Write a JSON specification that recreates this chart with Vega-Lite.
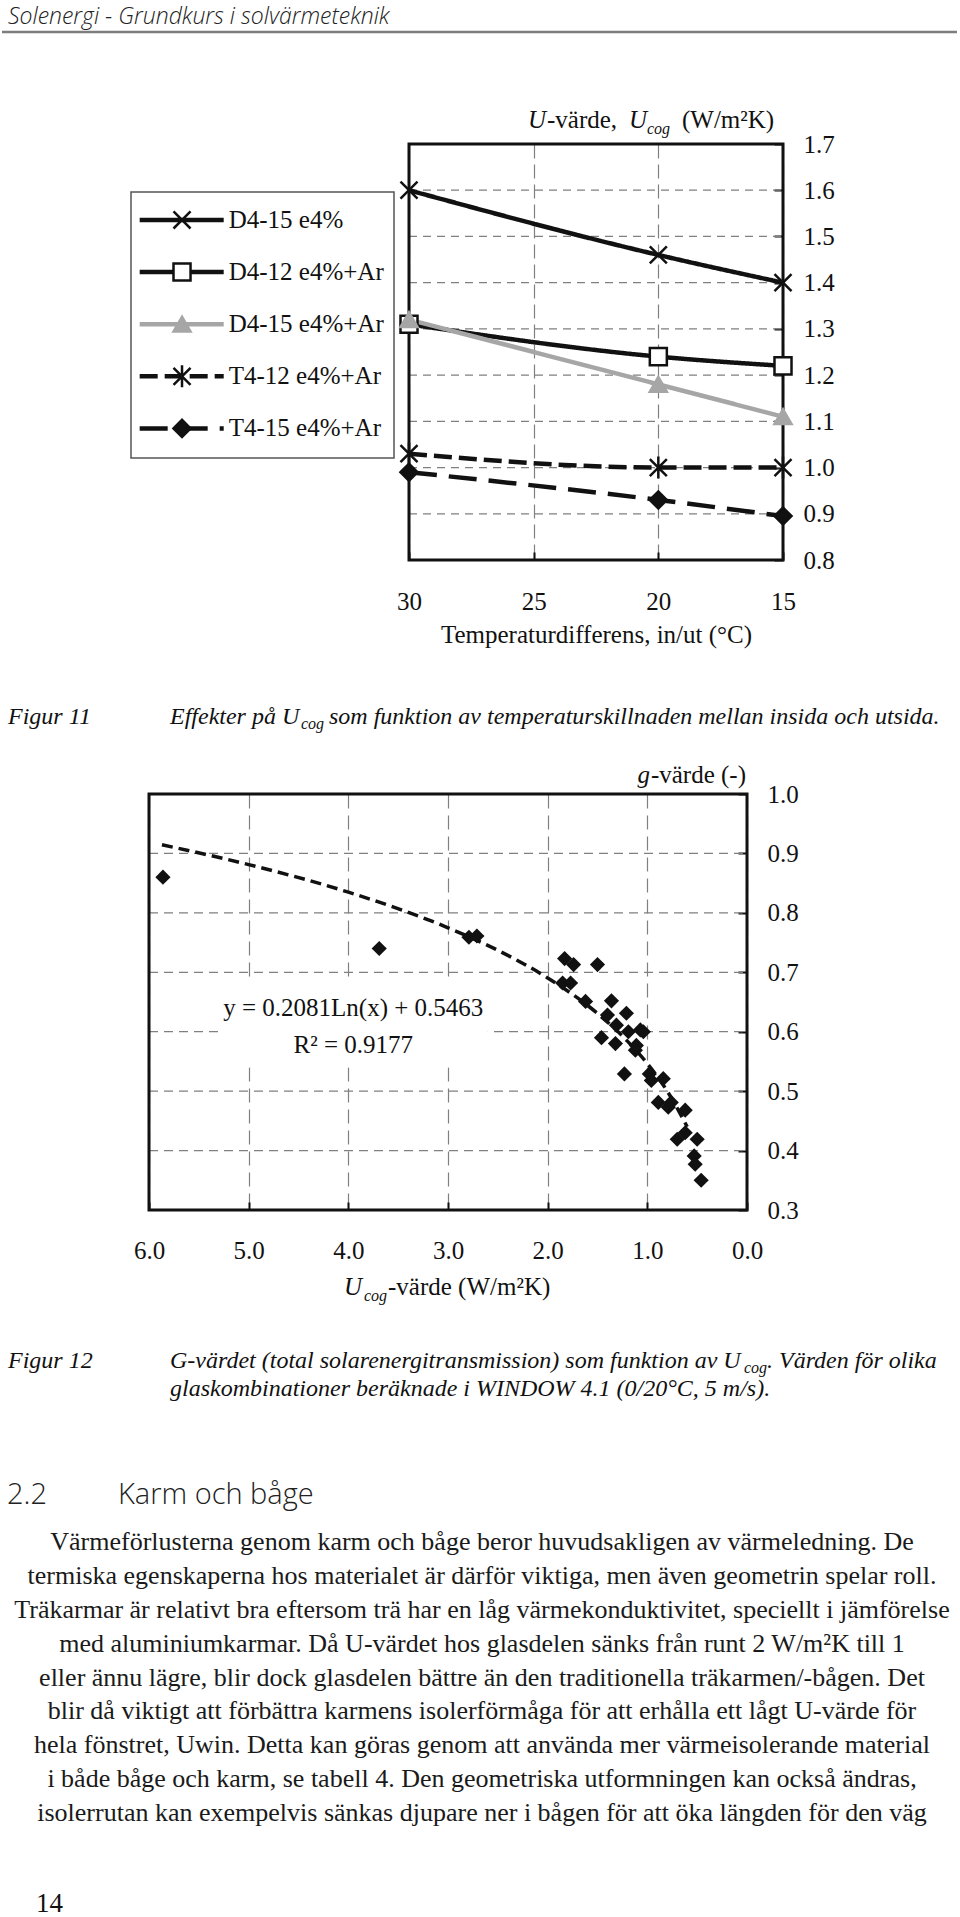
{
  "$schema": "https://vega.github.io/schema/vega-lite/v6.json",
  "padding": 0,
  "autosize": {"type": "pad"},
  "background": "white",
  "bounds": "flush",
  "spacing": 0,
  "config": {
    "view": {"stroke": null},
    "legend": {"disable": true},
    "axis": {"labelFont": "Liberation Serif", "labelFontSize": 25, "labelColor": "#111", "gridColor": "#808080", "gridWidth": 1.2, "domain": false, "tickColor": "#111", "tickWidth": 2, "titleFont": "Liberation Serif", "titleFontSize": 25, "titleFontWeight": "normal", "titleColor": "#111", "labelFlush": false, "labelOverlap": false},
    "text": {"font": "Liberation Serif", "fontSize": 25, "color": "#111"}
  },
  "datasets": {
    "ucog": [
      {"s": "D4-15 e4%", "t": 30, "u": 1.60}, {"s": "D4-15 e4%", "t": 20, "u": 1.46}, {"s": "D4-15 e4%", "t": 15, "u": 1.40},
      {"s": "D4-12 e4%+Ar", "t": 30, "u": 1.31}, {"s": "D4-12 e4%+Ar", "t": 20, "u": 1.24}, {"s": "D4-12 e4%+Ar", "t": 15, "u": 1.22},
      {"s": "D4-15 e4%+Ar", "t": 30, "u": 1.32}, {"s": "D4-15 e4%+Ar", "t": 20, "u": 1.18}, {"s": "D4-15 e4%+Ar", "t": 15, "u": 1.11},
      {"s": "T4-12 e4%+Ar", "t": 30, "u": 1.03}, {"s": "T4-12 e4%+Ar", "t": 20, "u": 1.00}, {"s": "T4-12 e4%+Ar", "t": 15, "u": 1.00},
      {"s": "T4-15 e4%+Ar", "t": 30, "u": 0.99}, {"s": "T4-15 e4%+Ar", "t": 20, "u": 0.93}, {"s": "T4-15 e4%+Ar", "t": 15, "u": 0.895}
    ],
    "series": [
      {"s": "D4-15 e4%", "k": 1}, {"s": "D4-12 e4%+Ar", "k": 2}, {"s": "D4-15 e4%+Ar", "k": 3}, {"s": "T4-12 e4%+Ar", "k": 4}, {"s": "T4-15 e4%+Ar", "k": 5}
    ],
    "grid1": [{"u": 0.9}, {"u": 1.0}, {"u": 1.1}, {"u": 1.2}, {"u": 1.3}, {"u": 1.4}, {"u": 1.5}, {"u": 1.6}],
    "grid2": [{"g": 0.4}, {"g": 0.5}, {"g": 0.6}, {"g": 0.7}, {"g": 0.8}, {"g": 0.9}],
    "gval": [
      {"uc": 5.86, "g": 0.860}, {"uc": 3.69, "g": 0.740}, {"uc": 2.79, "g": 0.759}, {"uc": 2.71, "g": 0.761},
      {"uc": 1.83, "g": 0.723}, {"uc": 1.74, "g": 0.713}, {"uc": 1.50, "g": 0.713}, {"uc": 1.85, "g": 0.682},
      {"uc": 1.77, "g": 0.682}, {"uc": 1.62, "g": 0.651}, {"uc": 1.36, "g": 0.652}, {"uc": 1.40, "g": 0.628},
      {"uc": 1.21, "g": 0.631}, {"uc": 1.31, "g": 0.611}, {"uc": 1.19, "g": 0.600}, {"uc": 1.07, "g": 0.603},
      {"uc": 1.04, "g": 0.600}, {"uc": 1.46, "g": 0.590}, {"uc": 1.32, "g": 0.580}, {"uc": 1.11, "g": 0.577},
      {"uc": 1.12, "g": 0.569}, {"uc": 1.23, "g": 0.529}, {"uc": 0.98, "g": 0.529}, {"uc": 0.96, "g": 0.518},
      {"uc": 0.84, "g": 0.521}, {"uc": 0.89, "g": 0.481}, {"uc": 0.79, "g": 0.473}, {"uc": 0.76, "g": 0.481},
      {"uc": 0.62, "g": 0.468}, {"uc": 0.70, "g": 0.419}, {"uc": 0.62, "g": 0.430}, {"uc": 0.50, "g": 0.419},
      {"uc": 0.53, "g": 0.391}, {"uc": 0.52, "g": 0.377}, {"uc": 0.46, "g": 0.350}
    ],
    "trend": [
      {"uc": 5.87, "g": 0.9146}, {"uc": 5.0, "g": 0.8812}, {"uc": 4.0, "g": 0.8348}, {"uc": 3.0, "g": 0.7749},
      {"uc": 2.5, "g": 0.7370}, {"uc": 2.0, "g": 0.6905}, {"uc": 1.5, "g": 0.6307}, {"uc": 1.2, "g": 0.5842},
      {"uc": 1.0, "g": 0.5463}, {"uc": 0.8, "g": 0.4999}, {"uc": 0.6, "g": 0.4400}
    ],
    "para": [
      {"line": 1, "txt": "Värmeförlusterna genom karm och båge beror huvudsakligen av värmeledning. De"},
      {"line": 2, "txt": "termiska egenskaperna hos materialet är därför viktiga, men även geometrin spelar roll."},
      {"line": 3, "txt": "Träkarmar är relativt bra eftersom trä har en låg värmekonduktivitet, speciellt i jämförelse"},
      {"line": 4, "txt": "med aluminiumkarmar. Då U-värdet hos glasdelen sänks från runt 2 W/m²K till 1"},
      {"line": 5, "txt": "eller ännu lägre, blir dock glasdelen bättre än den traditionella träkarmen/-bågen. Det"},
      {"line": 6, "txt": "blir då viktigt att förbättra karmens isolerförmåga för att erhålla ett lågt U-värde för"},
      {"line": 7, "txt": "hela fönstret, Uwin. Detta kan göras genom att använda mer värmeisolerande material"},
      {"line": 8, "txt": "i både båge och karm, se tabell 4. Den geometriska utformningen kan också ändras,"},
      {"line": 9, "txt": "isolerrutan kan exempelvis sänkas djupare ner i bågen för att öka längden för den väg"}
    ]
  },
  "vconcat": [
    {
      "width": 955, "height": 32,
      "data": {"values": [{"txt": "Solenergi - Grundkurs i solvärmeteknik"}]},
      "mark": {"type": "text", "align": "left", "baseline": "alphabetic", "font": "Open Sans", "fontStyle": "italic", "fontWeight": 300, "fontSize": 23, "color": "#222", "dx": 6, "dy": 8},
      "encoding": {"x": {"datum": 0, "type": "quantitative", "scale": {"domain": [0, 1]}, "axis": null}, "text": {"field": "txt"}}
    },
    {
      "width": 955, "height": 112,
      "data": {"values": [{"line": "header rule"}]},
      "mark": {"type": "rule", "color": "#7d7d7d", "strokeWidth": 2.5},
      "encoding": {"y": {"datum": 1, "type": "quantitative", "scale": {"domain": [0, 1]}, "axis": null}}
    },
    {
      "width": 781, "height": 416,
      "layer": [
        {
          "layer": [
            {"data": {"name": "grid1"},
             "mark": {"type": "rule", "color": "#808080", "strokeWidth": 1.2, "strokeDash": [8, 6]},
             "encoding": {"x": {"datum": 30, "type": "quantitative"}, "x2": {"datum": 15}, "y": {"field": "u", "type": "quantitative"}}},
            {"data": {"values": [{"box": "frame"}]},
             "mark": {"type": "rect", "fill": "transparent", "stroke": "#111", "strokeWidth": 3},
             "encoding": {"x": {"datum": 30, "type": "quantitative"}, "x2": {"datum": 15}, "y": {"datum": 0.8, "type": "quantitative"}, "y2": {"datum": 1.7}}},
            {"data": {"name": "ucog"},
             "mark": {"type": "line", "interpolate": "monotone"},
             "encoding": {
               "x": {"field": "t", "type": "quantitative", "scale": {"domain": [30, 15], "range": [407, 781], "nice": false, "zero": false},
                     "axis": {"orient": "bottom", "values": [30, 25, 20, 15], "format": "d", "title": "Temperaturdifferens, in/ut (°C)", "titleY": 74, "titleBaseline": "middle", "grid": true, "gridDash": [14, 6], "tickSize": -8, "labelPadding": 49, "labelBaseline": "middle"}},
               "y": {"field": "u", "type": "quantitative", "scale": {"domain": [0.8, 1.7], "nice": false, "zero": false},
                     "axis": {"orient": "right", "values": [0.8, 0.9, 1.0, 1.1, 1.2, 1.3, 1.4, 1.5, 1.6, 1.7], "format": ".1f", "title": null, "grid": false, "tickSize": -9, "labelPadding": 29, "labelBaseline": "middle"}},
               "stroke": {"field": "s", "type": "nominal", "scale": {"domain": ["D4-15 e4%", "D4-12 e4%+Ar", "D4-15 e4%+Ar", "T4-12 e4%+Ar", "T4-15 e4%+Ar"], "range": ["#111111", "#111111", "#a6a6a6", "#111111", "#111111"]}, "legend": null},
               "strokeDash": {"field": "s", "type": "nominal", "scale": {"domain": ["D4-15 e4%", "D4-12 e4%+Ar", "D4-15 e4%+Ar", "T4-12 e4%+Ar", "T4-15 e4%+Ar"], "range": [[1, 0], [1, 0], [1, 0], [18, 7], [28, 12]]}, "legend": null},
               "strokeWidth": {"field": "s", "type": "ordinal", "scale": {"domain": ["D4-15 e4%", "D4-12 e4%+Ar", "D4-15 e4%+Ar", "T4-12 e4%+Ar", "T4-15 e4%+Ar"], "range": [4.5, 4.5, 4.5, 3, 6]}, "legend": null}
             }},
            {"data": {"name": "ucog"},
             "mark": {"type": "point", "size": 290, "strokeWidth": 2.5, "opacity": 1},
             "encoding": {
               "x": {"field": "t", "type": "quantitative"},
               "y": {"field": "u", "type": "quantitative"},
               "shape": {"field": "s", "type": "nominal", "scale": {"domain": ["D4-15 e4%", "D4-12 e4%+Ar", "D4-15 e4%+Ar", "T4-12 e4%+Ar", "T4-15 e4%+Ar"], "range": ["M-1,-1L1,1M-1,1L1,-1", "square", "triangle-up", "M-1,-1L1,1M-1,1L1,-1M0,-1.3L0,1.3", "diamond"]}, "legend": null},
               "fill": {"field": "s", "type": "nominal", "scale": {"domain": ["D4-15 e4%", "D4-12 e4%+Ar", "D4-15 e4%+Ar", "T4-12 e4%+Ar", "T4-15 e4%+Ar"], "range": ["#111111", "#ffffff", "#a6a6a6", "#111111", "#111111"]}, "legend": null},
               "stroke": {"field": "s", "type": "nominal", "legend": null}
             }},
            {"data": {"values": [{"txt": "U"}]},
             "mark": {"type": "text", "align": "left", "baseline": "middle", "fontStyle": "italic", "dx": -255, "dy": -24},
             "encoding": {"x": {"datum": 15, "type": "quantitative"}, "y": {"datum": 1.7, "type": "quantitative"}, "text": {"field": "txt"}}},
            {"data": {"values": [{"txt": "-värde,"}]},
             "mark": {"type": "text", "align": "left", "baseline": "middle", "dx": -236, "dy": -24},
             "encoding": {"x": {"datum": 15, "type": "quantitative"}, "y": {"datum": 1.7, "type": "quantitative"}, "text": {"field": "txt"}}},
            {"data": {"values": [{"txt": "U"}]},
             "mark": {"type": "text", "align": "left", "baseline": "middle", "fontStyle": "italic", "dx": -154, "dy": -24},
             "encoding": {"x": {"datum": 15, "type": "quantitative"}, "y": {"datum": 1.7, "type": "quantitative"}, "text": {"field": "txt"}}},
            {"data": {"values": [{"txt": "cog"}]},
             "mark": {"type": "text", "align": "left", "baseline": "middle", "fontStyle": "italic", "fontSize": 16, "dx": -136, "dy": -15},
             "encoding": {"x": {"datum": 15, "type": "quantitative"}, "y": {"datum": 1.7, "type": "quantitative"}, "text": {"field": "txt"}}},
            {"data": {"values": [{"txt": "(W/m²K)"}]},
             "mark": {"type": "text", "align": "left", "baseline": "middle", "dx": -101, "dy": -24},
             "encoding": {"x": {"datum": 15, "type": "quantitative"}, "y": {"datum": 1.7, "type": "quantitative"}, "text": {"field": "txt"}}}
          ]
        },
        {
          "layer": [
            {"data": {"values": [{"box": "legend"}]},
             "mark": {"type": "rect", "fill": "white", "stroke": "#555", "strokeWidth": 1.5},
             "encoding": {
               "x": {"datum": 0, "type": "quantitative", "scale": {"domain": [0, 1], "range": [129, 392], "nice": false, "zero": false}, "axis": null},
               "x2": {"datum": 1},
               "y": {"datum": 0.463, "type": "quantitative", "scale": {"domain": [0.463, 5.568], "range": [48, 314], "nice": false, "zero": false}, "axis": null},
               "y2": {"datum": 5.568}
             }},
            {"data": {"name": "series"},
             "mark": {"type": "rule"},
             "encoding": {
               "x": {"datum": 0.033, "type": "quantitative"},
               "x2": {"datum": 0.3525},
               "y": {"field": "k", "type": "quantitative"},
               "stroke": {"field": "s", "type": "nominal", "legend": null},
               "strokeDash": {"field": "s", "type": "nominal", "legend": null},
               "strokeWidth": {"field": "s", "type": "ordinal", "legend": null}
             }},
            {"data": {"name": "series"},
             "mark": {"type": "point", "size": 290, "strokeWidth": 2.5, "opacity": 1},
             "encoding": {
               "x": {"datum": 0.194, "type": "quantitative"},
               "y": {"field": "k", "type": "quantitative"},
               "shape": {"field": "s", "type": "nominal", "legend": null},
               "fill": {"field": "s", "type": "nominal", "legend": null},
               "stroke": {"field": "s", "type": "nominal", "legend": null}
             }},
            {"data": {"name": "series"},
             "mark": {"type": "text", "align": "left", "baseline": "middle"},
             "encoding": {
               "x": {"datum": 0.3715, "type": "quantitative"},
               "y": {"field": "k", "type": "quantitative"},
               "text": {"field": "s"}
             }}
          ]
        }
      ],
      "resolve": {"scale": {"x": "independent", "y": "independent"}}
    },
    {
      "width": 960, "height": 234,
      "layer": [
        {"data": {"values": [{"txt": "Figur 11"}]},
         "mark": {"type": "text", "align": "left", "baseline": "middle", "fontStyle": "italic", "fontSize": 24, "dx": 6, "dy": 40},
         "encoding": {"x": {"datum": 0, "type": "quantitative", "scale": {"domain": [0, 1]}, "axis": null}, "text": {"field": "txt"}}},
        {"data": {"values": [{"txt": "Effekter på U"}]},
         "mark": {"type": "text", "align": "left", "baseline": "middle", "fontStyle": "italic", "fontSize": 24, "dx": 168, "dy": 40},
         "encoding": {"x": {"datum": 0, "type": "quantitative"}, "text": {"field": "txt"}}},
        {"data": {"values": [{"txt": "cog"}]},
         "mark": {"type": "text", "align": "left", "baseline": "middle", "fontStyle": "italic", "fontSize": 16, "dx": 299, "dy": 47},
         "encoding": {"x": {"datum": 0, "type": "quantitative"}, "text": {"field": "txt"}}},
        {"data": {"values": [{"txt": "som funktion av temperaturskillnaden mellan insida och utsida."}]},
         "mark": {"type": "text", "align": "left", "baseline": "middle", "fontStyle": "italic", "fontSize": 24, "dx": 327, "dy": 40},
         "encoding": {"x": {"datum": 0, "type": "quantitative"}, "text": {"field": "txt"}}}
      ]
    },
    {
      "width": 745, "height": 416,
      "layer": [
        {"data": {"name": "grid2"},
         "mark": {"type": "rule", "color": "#808080", "strokeWidth": 1.2, "strokeDash": [9, 6]},
         "encoding": {"x": {"datum": 6, "type": "quantitative"}, "x2": {"datum": 0}, "y": {"field": "g", "type": "quantitative"}}},
        {"data": {"values": [{"box": "equation"}]},
         "mark": {"type": "rect", "fill": "white"},
         "encoding": {"x": {"datum": 5.3, "type": "quantitative"}, "x2": {"datum": 2.6}, "y": {"datum": 0.54, "type": "quantitative"}, "y2": {"datum": 0.684}}},
        {"data": {"values": [{"box": "frame"}]},
         "mark": {"type": "rect", "fill": "transparent", "stroke": "#111", "strokeWidth": 3},
         "encoding": {"x": {"datum": 6, "type": "quantitative"}, "x2": {"datum": 0}, "y": {"datum": 0.3, "type": "quantitative"}, "y2": {"datum": 1.0}}},
        {"data": {"name": "trend"},
         "mark": {"type": "line", "interpolate": "monotone", "strokeDash": [11, 6], "strokeWidth": 3.5, "color": "#111"},
         "encoding": {"x": {"field": "uc", "type": "quantitative"}, "y": {"field": "g", "type": "quantitative"}}},
        {"data": {"name": "gval"},
         "mark": {"type": "point", "shape": "diamond", "filled": true, "size": 230, "color": "#111", "opacity": 1},
         "encoding": {
           "x": {"field": "uc", "type": "quantitative", "scale": {"domain": [6, 0], "range": [147, 745], "nice": false, "zero": false},
                 "axis": {"orient": "bottom", "values": [6, 5, 4, 3, 2, 1, 0], "format": ".1f", "title": null, "grid": true, "gridDash": [14, 7], "tickSize": -8, "labelPadding": 48, "labelBaseline": "middle"}},
           "y": {"field": "g", "type": "quantitative", "scale": {"domain": [0.3, 1.0], "nice": false, "zero": false},
                 "axis": {"orient": "right", "values": [0.3, 0.4, 0.5, 0.6, 0.7, 0.8, 0.9, 1.0], "format": ".1f", "title": null, "grid": false, "tickSize": -9, "labelPadding": 29, "labelBaseline": "middle"}}
         }},
        {"data": {"values": [{"txt": "y = 0.2081Ln(x) + 0.5463"}]},
         "mark": {"type": "text", "align": "center", "baseline": "middle"},
         "encoding": {"x": {"datum": 3.95, "type": "quantitative"}, "y": {"datum": 0.64, "type": "quantitative"}, "text": {"field": "txt"}}},
        {"data": {"values": [{"txt": "R² = 0.9177"}]},
         "mark": {"type": "text", "align": "center", "baseline": "middle"},
         "encoding": {"x": {"datum": 3.95, "type": "quantitative"}, "y": {"datum": 0.578, "type": "quantitative"}, "text": {"field": "txt"}}},
        {"data": {"values": [{"txt": "-värde (-)"}]},
         "mark": {"type": "text", "align": "right", "baseline": "middle", "dx": -1, "dy": -19},
         "encoding": {"x": {"datum": 0, "type": "quantitative"}, "y": {"datum": 1.0, "type": "quantitative"}, "text": {"field": "txt"}}},
        {"data": {"values": [{"txt": "g"}]},
         "mark": {"type": "text", "align": "right", "baseline": "middle", "fontStyle": "italic", "dx": -97, "dy": -19},
         "encoding": {"x": {"datum": 0, "type": "quantitative"}, "y": {"datum": 1.0, "type": "quantitative"}, "text": {"field": "txt"}}},
        {"data": {"values": [{"txt": "U"}]},
         "mark": {"type": "text", "align": "left", "baseline": "middle", "fontStyle": "italic", "dx": -104, "dy": 77},
         "encoding": {"x": {"datum": 3, "type": "quantitative"}, "y": {"datum": 0.3, "type": "quantitative"}, "text": {"field": "txt"}}},
        {"data": {"values": [{"txt": "cog"}]},
         "mark": {"type": "text", "align": "left", "baseline": "middle", "fontStyle": "italic", "fontSize": 16, "dx": -84, "dy": 86},
         "encoding": {"x": {"datum": 3, "type": "quantitative"}, "y": {"datum": 0.3, "type": "quantitative"}, "text": {"field": "txt"}}},
        {"data": {"values": [{"txt": "-värde (W/m²K)"}]},
         "mark": {"type": "text", "align": "left", "baseline": "middle", "dx": -60, "dy": 77},
         "encoding": {"x": {"datum": 3, "type": "quantitative"}, "y": {"datum": 0.3, "type": "quantitative"}, "text": {"field": "txt"}}}
      ]
    },
    {
      "width": 960, "height": 210,
      "layer": [
        {"data": {"values": [{"txt": "Figur 12"}]},
         "mark": {"type": "text", "align": "left", "baseline": "middle", "fontStyle": "italic", "fontSize": 24, "dx": 6, "dy": 46},
         "encoding": {"x": {"datum": 0, "type": "quantitative", "scale": {"domain": [0, 1]}, "axis": null}, "text": {"field": "txt"}}},
        {"data": {"values": [{"txt": "G-värdet (total solarenergitransmission) som funktion av U"}]},
         "mark": {"type": "text", "align": "left", "baseline": "middle", "fontStyle": "italic", "fontSize": 24, "dx": 168, "dy": 46},
         "encoding": {"x": {"datum": 0, "type": "quantitative"}, "text": {"field": "txt"}}},
        {"data": {"values": [{"txt": "cog"}]},
         "mark": {"type": "text", "align": "left", "baseline": "middle", "fontStyle": "italic", "fontSize": 16, "dx": 742, "dy": 53},
         "encoding": {"x": {"datum": 0, "type": "quantitative"}, "text": {"field": "txt"}}},
        {"data": {"values": [{"txt": ". Värden för olika"}]},
         "mark": {"type": "text", "align": "left", "baseline": "middle", "fontStyle": "italic", "fontSize": 24, "dx": 765, "dy": 46},
         "encoding": {"x": {"datum": 0, "type": "quantitative"}, "text": {"field": "txt"}}},
        {"data": {"values": [{"txt": "glaskombinationer beräknade i WINDOW 4.1 (0/20°C, 5 m/s)."}]},
         "mark": {"type": "text", "align": "left", "baseline": "middle", "fontStyle": "italic", "fontSize": 24, "dx": 168, "dy": 74},
         "encoding": {"x": {"datum": 0, "type": "quantitative"}, "text": {"field": "txt"}}}
      ]
    },
    {
      "width": 960, "height": 105,
      "layer": [
        {"data": {"values": [{"txt": "2.2"}]},
         "mark": {"type": "text", "align": "left", "baseline": "middle", "font": "Open Sans", "fontWeight": 300, "fontSize": 29, "color": "#222", "dx": 5, "dy": 22},
         "encoding": {"x": {"datum": 0, "type": "quantitative", "scale": {"domain": [0, 1]}, "axis": null}, "text": {"field": "txt"}}},
        {"data": {"values": [{"txt": "Karm och båge"}]},
         "mark": {"type": "text", "align": "left", "baseline": "middle", "font": "Open Sans", "fontWeight": 300, "fontSize": 29, "color": "#222", "dx": 116, "dy": 22},
         "encoding": {"x": {"datum": 0, "type": "quantitative"}, "text": {"field": "txt"}}}
      ]
    },
    {
      "width": 960, "height": 305,
      "data": {"name": "para"},
      "mark": {"type": "text", "align": "center", "baseline": "middle", "fontSize": 26, "color": "#1a1a1a"},
      "encoding": {
        "y": {"field": "line", "type": "ordinal", "axis": null, "scale": {"type": "point", "padding": 0.5}},
        "text": {"field": "txt"}
      }
    },
    {
      "width": 960, "height": 87,
      "data": {"values": [{"txt": "14"}]},
      "mark": {"type": "text", "align": "left", "baseline": "middle", "fontSize": 27, "dx": 34, "dy": 30},
      "encoding": {"x": {"datum": 0, "type": "quantitative", "scale": {"domain": [0, 1]}, "axis": null}, "text": {"field": "txt"}}
    }
  ]
}
